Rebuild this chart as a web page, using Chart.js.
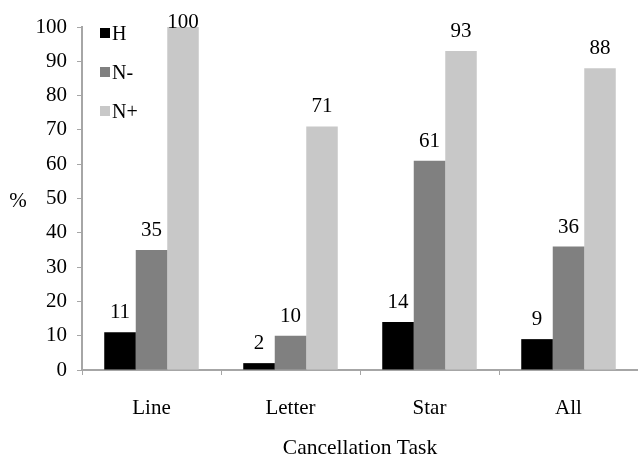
<!DOCTYPE html>
<html>
<head>
<meta charset="utf-8">
<script src="https://cdn.jsdelivr.net/npm/chart.js@4.4.0/dist/chart.umd.min.js"></script>
<style>
  html, body { margin: 0; padding: 0; background: #fff; }
  #wrap { width: 638px; height: 459px; }
</style>
</head>
<body>
<div id="wrap"><canvas id="taskChart"></canvas></div>
<script>
// data
const categories = ['Line', 'Letter', 'Star', 'All'];
const seriesNames = ['H', 'N-', 'N+'];
const valuesH = [11, 2, 14, 9];
const valuesNminus = [35, 10, 61, 36];
const valuesNplus = [100, 71, 93, 88];
const yTicks = [0, 10, 20, 30, 40, 50, 60, 70, 80, 90, 100];

const barColors = ['#000000', '#808080', '#c8c8c8'];
const serif = '"Liberation Serif", "Times New Roman", serif';
const axisGray = '#a6a6a6';

// value labels above each bar (kept from running off the top)
const valueLabels = {
    id: 'valueLabels',
    afterDatasetsDraw(chart) {
        const ctx = chart.ctx;
        ctx.save();
        ctx.font = '21px ' + serif;
        ctx.fillStyle = '#000';
        ctx.textAlign = 'center';
        ctx.textBaseline = 'alphabetic';
        chart.data.datasets.forEach((ds, i) => {
            chart.getDatasetMeta(i).data.forEach((bar, j) => {
                const y = Math.max(bar.y - 14, 28);
                ctx.fillText(ds.data[j], bar.x, y);
            });
        });
        ctx.restore();
    }
};

// legend inside the plot + the horizontal "%" title
const insideLegend = {
    id: 'insideLegend',
    afterDraw(chart) {
        const ctx = chart.ctx;
        ctx.save();
        ctx.font = '20px ' + serif;
        ctx.textBaseline = 'middle';
        chart.data.datasets.forEach((ds, i) => {
            const y = 34 + i * 39;
            ctx.fillStyle = ds.backgroundColor;
            ctx.fillRect(100, y - 6, 10, 10);
            ctx.fillStyle = '#000';
            ctx.fillText(ds.label, 112, y + 1);
        });
        ctx.font = '21px ' + serif;
        ctx.textAlign = 'center';
        ctx.fillText('%', 18, 201);
        ctx.restore();
    }
};

const ctx = document.getElementById('taskChart').getContext('2d');
new Chart(ctx, {
    type: 'bar',
    data: {
        labels: categories,
        datasets: [
            { label: seriesNames[0], data: valuesH, backgroundColor: barColors[0] },
            { label: seriesNames[1], data: valuesNminus, backgroundColor: barColors[1] },
            { label: seriesNames[2], data: valuesNplus, backgroundColor: barColors[2] }
        ]
    },
    options: {
        responsive: true,
        maintainAspectRatio: false,
        animation: false,
        layout: { padding: { top: 27, right: 0, left: 0, bottom: 0 } },
        datasets: { bar: { categoryPercentage: 0.68, barPercentage: 1.0 } },
        plugins: {
            legend: { display: false },
            tooltip: { enabled: false }
        },
        scales: {
            x: {
                afterFit(scale) { scale.height = 89; },
                grid: {
                    offset: true,
                    drawOnChartArea: false,
                    drawTicks: true,
                    tickLength: 5,
                    color: axisGray
                },
                border: { color: axisGray, width: 2 },
                ticks: {
                    color: '#000',
                    padding: 21,
                    font: { family: serif, size: 21 }
                },
                title: {
                    display: true,
                    text: 'Cancellation Task',
                    color: '#000',
                    padding: { top: 10, bottom: 0 },
                    font: { family: serif, size: 21.5, lineHeight: 1.0 }
                }
            },
            y: {
                min: 0,
                max: 100,
                afterFit(scale) { scale.width = 82; },
                afterBuildTicks(scale) { scale.ticks = yTicks.map(v => ({ value: v })); },
                grid: {
                    drawOnChartArea: false,
                    drawTicks: true,
                    tickLength: 5,
                    color: axisGray
                },
                border: { color: axisGray, width: 2 },
                ticks: {
                    color: '#000',
                    padding: 10,
                    font: { family: serif, size: 21 }
                }
            }
        }
    },
    plugins: [valueLabels, insideLegend]
});
</script>
</body>
</html>
